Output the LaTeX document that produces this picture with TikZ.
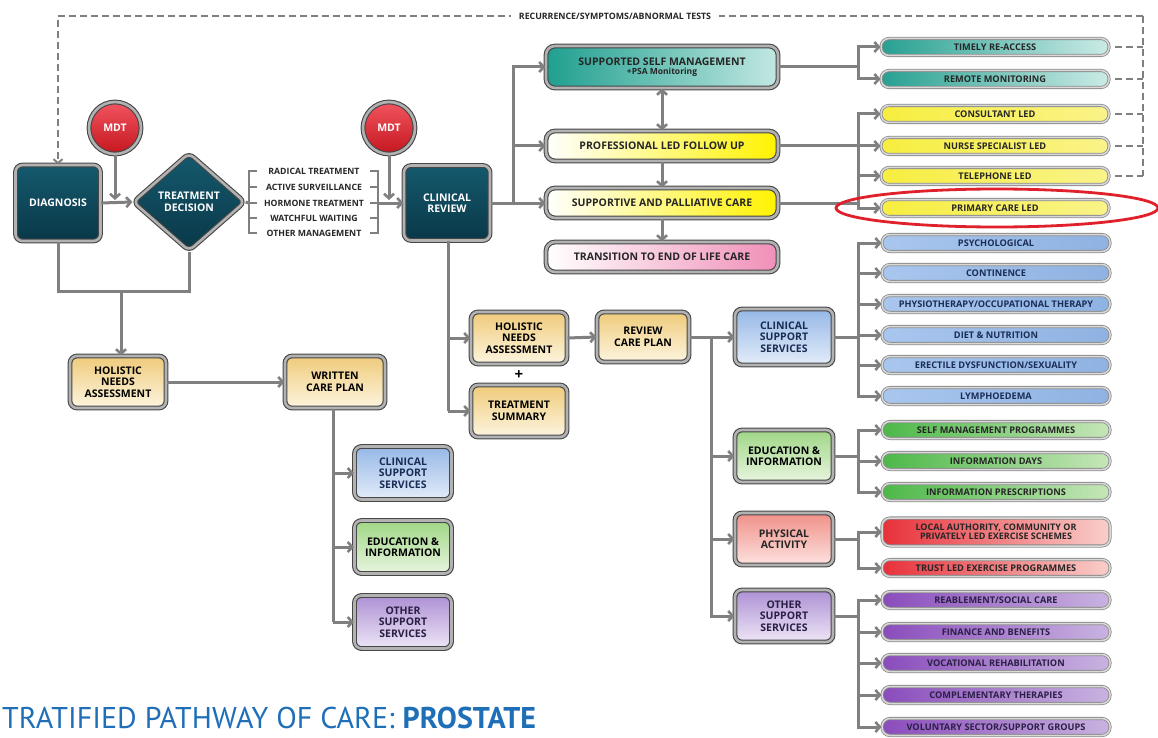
\documentclass[tikz,border=0pt]{standalone}
\usepackage{fontspec}
\setmainfont{PT Sans}
\newfontfamily\lab{Open Sans}
\usetikzlibrary{arrows.meta,shapes.geometric,calc}
\definecolor{lineg}{HTML}{808080}
\definecolor{tealA}{HTML}{15596D}
\definecolor{tealB}{HTML}{093848}
\definecolor{mdtA}{HTML}{F25560}
\definecolor{mdtB}{HTML}{C4161F}
\definecolor{tanT}{HTML}{EFCB7A}
\definecolor{tanB}{HTML}{FDF5E0}
\definecolor{bluT}{HTML}{95B7E6}
\definecolor{bluB}{HTML}{E4EDF9}
\definecolor{grnT}{HTML}{9FD685}
\definecolor{grnB}{HTML}{E8F5DF}
\definecolor{redT}{HTML}{F08F88}
\definecolor{redB}{HTML}{FDE3E0}
\definecolor{purT}{HTML}{AD90D4}
\definecolor{purB}{HTML}{EEE6F6}
\definecolor{navy}{HTML}{1A2D55}
\definecolor{plum}{HTML}{2A1F45}
\definecolor{titleblue}{HTML}{1F6FB8}
\definecolor{ellred}{HTML}{E0202A}
\definecolor{c1}{HTML}{27A091}
\definecolor{c2}{HTML}{AADCD4}
\definecolor{c3}{HTML}{CBEBE6}
\definecolor{y1}{HTML}{F7EE3F}
\definecolor{y2}{HTML}{FDFBD0}
\definecolor{y3}{HTML}{F9F38A}
\definecolor{b1c}{HTML}{A9C6EE}
\definecolor{b2c}{HTML}{F4F8FD}
\definecolor{b3c}{HTML}{8EB2E2}
\definecolor{g1c}{HTML}{4CB848}
\definecolor{g2c}{HTML}{F0F8EC}
\definecolor{g3c}{HTML}{C6E6B8}
\definecolor{r1c}{HTML}{E8303A}
\definecolor{r2c}{HTML}{F7B8B2}
\definecolor{r3c}{HTML}{F9CFCB}
\definecolor{p1c}{HTML}{8A4CBC}
\definecolor{p2c}{HTML}{EFE8F6}
\definecolor{p3c}{HTML}{C9B3E0}
\definecolor{ssmA}{HTML}{1F9F8F}
\definecolor{ssmB}{HTML}{6CC2B6}
\definecolor{ssmC}{HTML}{C2E8E2}
\definecolor{yelA}{HTML}{FFF35A}
\definecolor{yelB}{HTML}{FFF200}
\definecolor{pnkA}{HTML}{F6B0CD}
\definecolor{pnkB}{HTML}{F08FB8}
\tikzset{
  bev/.style={draw=black!72, double=black!30, double distance=2.6pt, line width=1.1pt,
    rounded corners=7pt, align=center, inner sep=1pt,
    font=\lab\fontsize{10.5}{11.5}\selectfont\bfseries},
  tealbox/.style={bev, top color=tealA, bottom color=tealB, text=white},
  mdtnode/.style={bev, circle, minimum size=52pt, top color=mdtA, bottom color=mdtB, text=white},
  tanbox/.style={bev, top color=tanT, bottom color=tanB, text=black, minimum width=96pt, minimum height=52pt},
  blubox/.style={bev, top color=bluT, bottom color=bluB, text=navy, minimum width=97pt, minimum height=53pt},
  grnbox/.style={bev, top color=grnT, bottom color=grnB, text=black, minimum width=97pt, minimum height=53pt},
  redbox/.style={bev, top color=redT, bottom color=redB, text=black!85, minimum width=97pt, minimum height=53pt},
  purbox/.style={bev, top color=purT, bottom color=purB, text=plum, minimum width=97pt, minimum height=53pt},
  widebox/.style={bev, minimum width=232pt, minimum height=30pt, rounded corners=9pt, text=black!85},
  pill/.style={draw=black!45, double=black!15, double distance=1.5pt, line width=0.8pt,
    rounded corners=8pt, minimum width=228pt, minimum height=17pt, inner sep=0pt, align=center,
    font=\lab\fontsize{9.2}{9.5}\selectfont\bfseries, text=black!85},
  tpill/.style={pill, left color=c1, middle color=c2, right color=c3},
  ypill/.style={pill, left color=y1, middle color=y2, right color=y3},
  bpill/.style={pill, left color=b1c, middle color=b2c, right color=b3c, text=navy},
  gpill/.style={pill, left color=g1c, middle color=g2c, right color=g3c},
  rpill/.style={pill, left color=r1c, middle color=r2c, right color=r3c},
  ppill/.style={pill, left color=p1c, middle color=p2c, right color=p3c, text=plum},
  lst/.style={inner sep=0pt, font=\lab\fontsize{8.7}{9}\selectfont\bfseries, text=black!85},
  conn/.style={draw=lineg, line width=3pt},
  arr/.style={conn, -{Straight Barb[length=4.5pt,width=10pt,line width=2.6pt]}},
  dbl/.style={conn, {Straight Barb[length=4.5pt,width=10pt,line width=2.6pt]}-{Straight Barb[length=4.5pt,width=10pt,line width=2.6pt]}},
  brk/.style={draw=lineg, line width=2pt},
  dsh/.style={draw=black!50, line width=2pt, dash pattern=on 7pt off 4pt},
}
\begin{document}
\begin{tikzpicture}[x=1pt,y=-1pt]
\useasboundingbox (0,0) rectangle (1158,738);
\fill[white] (0,0) rectangle (1158,738);

% ---------- left top ----------
\node[tealbox, minimum width=85pt, minimum height=76pt] (diag) at (58,203) {DIAGNOSIS};
\node[mdtnode] (mdtA) at (115,128) {MDT};
\node[tealbox, diamond, minimum width=112pt, minimum height=98pt, inner sep=0pt, rounded corners=6pt] (td) at (189,202) {TREATMENT\\DECISION};
\node[mdtnode] (mdtB) at (389,128) {MDT};
\node[tealbox, minimum width=86pt, minimum height=75pt] (cr) at (447,203) {CLINICAL\\REVIEW};

\node[lst] (l1) at (314,171) {RADICAL TREATMENT};
\node[lst] (l2) at (314,187) {ACTIVE SURVEILLANCE};
\node[lst] (l3) at (314,203) {HORMONE TREATMENT};
\node[lst] (l4) at (314,218) {WATCHFUL WAITING};
\node[lst] (l5) at (314,233) {OTHER MANAGEMENT};

\coordinate (bl) at (249,203);
\coordinate (br) at (378,203);
\draw[brk] (257,171) -- (249,171) -- (249,233) -- (257,233);
\foreach \yy in {187,203,218} \draw[brk] (249,\yy) -- (257,\yy);
\draw[brk] (370,171) -- (378,171) -- (378,233) -- (370,233);
\foreach \yy in {187,203,218} \draw[brk] (370,\yy) -- (378,\yy);

\draw[arr] (diag.east) -- (td.west);
\coordinate (m1) at (115,200);
\draw[arr] (mdtA.south) -- (m1);
\draw[conn] (td.east) -- (bl);
\draw[arr] (br) -- (cr.west);
\coordinate (m2) at (389,200);
\draw[arr] (mdtB.south) -- (m2);

% ---------- recurrence loop ----------
\coordinate (rl) at (58,16);
\coordinate (rr) at (1143,16);
\draw[dsh, -{Straight Barb[length=4pt,width=9pt,line width=2pt]}] (rr) -- (rl) -- (diag.north);

% ---------- follow-up column ----------
\node[widebox, minimum height=42pt, left color=ssmA, middle color=ssmB, right color=ssmC] (ssm) at (662,67)
  {SUPPORTED SELF MANAGEMENT\\[-2pt]{\fontsize{8.5}{9}\selectfont +PSA Monitoring}};
\node[widebox, left color=white, middle color=yelA, right color=yelB] (plfu) at (662,146) {PROFESSIONAL LED FOLLOW UP};
\node[widebox, left color=white, middle color=yelA, right color=yelB] (spc) at (662,203) {SUPPORTIVE AND PALLIATIVE CARE};
\node[widebox, left color=white, middle color=pnkA, right color=pnkB] (tr) at (662,257) {TRANSITION TO END OF LIFE CARE};

\coordinate (cj) at (513,203);
\draw[conn] (cr.east) -- (cj);
\draw[arr] (cj) |- (ssm.west);
\draw[arr] (cj|-plfu.west) -- (plfu.west);
\draw[arr] (cj) -- (spc.west);
\draw[dbl] (ssm.south) -- (plfu.north);
\draw[arr] (plfu.south) -- (spc.north);
\draw[arr] (spc.south) -- (tr.north);

% ---------- right top pills ----------
\node[tpill] (tra) at (995,47) {TIMELY RE-ACCESS};
\node[tpill] (rem) at (995,79) {REMOTE MONITORING};
\node[ypill] (con) at (995,114) {CONSULTANT LED};
\node[ypill] (nur) at (995,146) {NURSE SPECIALIST LED};
\node[ypill] (tel) at (995,176) {TELEPHONE LED};
\node[ypill] (pri) at (995,208) {PRIMARY CARE LED};

\coordinate (sj) at (858,67);
\draw[conn] (ssm.east) -- (sj);
\draw[arr] (sj) |- (tra.west);
\draw[arr] (sj) |- (rem.west);
\coordinate (pj) at (858,146);
\coordinate (qj) at (858,203);
\draw[conn] (plfu.east) -- (pj);
\draw[conn] (spc.east) -- (qj);
\draw[arr] (pj) |- (con.west);
\draw[arr] (pj) -- (nur.west);
\draw[arr] (pj) |- (tel.west);
\draw[arr] (pj) |- (pri.west);

\coordinate (d1) at (1143,47);
\coordinate (d2) at (1143,79);
\coordinate (d3) at (1143,114);
\coordinate (d4) at (1143,146);
\coordinate (d5) at (1143,176);
\draw[dsh] (rr) -- (d5);
\draw[dsh] ([xshift=6pt]tra.east) -- (d1);
\draw[dsh] ([xshift=6pt]rem.east) -- (d2);
\draw[dsh] ([xshift=6pt]con.east) -- (d3);
\draw[dsh] ([xshift=6pt]nur.east) -- (d4);
\draw[dsh] ([xshift=6pt]tel.east) -- (d5);
\node[fill=white, inner xsep=8pt, inner ysep=2pt, font=\lab\fontsize{8.8}{9}\selectfont\bfseries, text=black!85] (rec) at (615,16) {RECURRENCE/SYMPTOMS/ABNORMAL TESTS};

\draw[ellred, line width=2.8pt] (997,208) ellipse [x radius=161, y radius=19];

% ---------- lower left ----------
\node[tanbox] (hna1) at (118,382) {HOLISTIC\\NEEDS\\ASSESSMENT};
\node[tanbox, minimum width=100pt] (wcp) at (335,382) {WRITTEN\\CARE PLAN};
\coordinate (j1) at (58,291);
\coordinate (j2) at (189,291);
\coordinate (j3) at (121,291);
\draw[conn] (diag.south) -- (j1) -- (j2) -- (td.south);
\draw[arr] (j3) -- (j3|-hna1.north);
\draw[arr] (hna1.east) -- (wcp.west);

\node[blubox] (cssL) at (403,473) {CLINICAL\\SUPPORT\\SERVICES};
\node[grnbox] (eduL) at (403,547) {EDUCATION \&\\INFORMATION};
\node[purbox] (othL) at (403,622) {OTHER\\SUPPORT\\SERVICES};
\coordinate (wj) at (333,622);
\draw[conn] (wcp.south-|wj) -- (wj);
\draw[arr] (wj|-cssL.west) -- (cssL.west);
\draw[arr] (wj|-eduL.west) -- (eduL.west);
\draw[arr] (wj) -- (othL.west);

% ---------- middle ----------
\node[tanbox] (hna2) at (519,338) {HOLISTIC\\NEEDS\\ASSESSMENT};
\node[font=\lab\fontsize{15}{15}\selectfont\bfseries] (plus) at (519,375) {+};
\node[tanbox] (ts) at (519,411) {TREATMENT\\SUMMARY};
\node[tanbox, minimum width=92pt, minimum height=50pt] (rcp) at (643,337) {REVIEW\\CARE PLAN};
\coordinate (vj) at (448,411);
\draw[conn] (cr.south-|vj) -- (vj);
\draw[arr] (vj|-hna2.west) -- (hna2.west);
\draw[arr] (vj) -- (ts.west);
\draw[arr] (hna2.east) -- (rcp.west);

\node[blubox, minimum width=98pt, minimum height=56pt] (cssR) at (784,337) {CLINICAL\\SUPPORT\\SERVICES};
\node[grnbox, minimum width=98pt, minimum height=52pt] (eduR) at (784,456) {EDUCATION \&\\INFORMATION};
\node[redbox, minimum width=98pt, minimum height=52pt] (phyR) at (784,539) {PHYSICAL\\ACTIVITY};
\node[purbox, minimum width=98pt, minimum height=52pt] (othR) at (784,616) {OTHER\\SUPPORT\\SERVICES};
\draw[arr] (rcp.east) -- (cssR.west);
\coordinate (rj) at (711,337);
\draw[arr] (rj) |- (eduR.west);
\draw[arr] (rj) |- (phyR.west);
\draw[arr] (rj) |- (othR.west);

% ---------- right pills ----------
\node[bpill] (b1) at (996,243) {PSYCHOLOGICAL};
\node[bpill] (b2) at (996,273) {CONTINENCE};
\node[bpill] (b3) at (996,304) {PHYSIOTHERAPY/OCCUPATIONAL THERAPY};
\node[bpill] (b4) at (996,335) {DIET \& NUTRITION};
\node[bpill] (b5) at (996,365) {ERECTILE DYSFUNCTION/SEXUALITY};
\node[bpill] (b6) at (996,396) {LYMPHOEDEMA};
\coordinate (bj) at (858,337);
\draw[conn] (cssR.east) -- (bj);
\foreach \n in {b1,b2,b3,b4,b5,b6} \draw[arr] (bj) |- (\n.west);

\node[gpill] (g1) at (996,430) {SELF MANAGEMENT PROGRAMMES};
\node[gpill] (g2) at (996,461) {INFORMATION DAYS};
\node[gpill] (g3) at (996,492) {INFORMATION PRESCRIPTIONS};
\coordinate (gj) at (858,456);
\draw[conn] (eduR.east) -- (gj);
\foreach \n in {g1,g2,g3} \draw[arr] (gj) |- (\n.west);

\node[rpill, minimum height=28pt, font=\lab\fontsize{9}{9}\selectfont\bfseries] (r1) at (996,532) {LOCAL AUTHORITY, COMMUNITY OR\\PRIVATELY LED EXERCISE SCHEMES};
\node[rpill] (r2) at (996,568) {TRUST LED EXERCISE PROGRAMMES};
\coordinate (hj) at (858,539);
\draw[conn] (phyR.east) -- (hj);
\foreach \n in {r1,r2} \draw[arr] (hj) |- (\n.west);

\node[ppill] (p1) at (996,600) {REABLEMENT/SOCIAL CARE};
\node[ppill] (p2) at (996,632) {FINANCE AND BENEFITS};
\node[ppill] (p3) at (996,663) {VOCATIONAL REHABILITATION};
\node[ppill] (p4) at (996,695) {COMPLEMENTARY THERAPIES};
\node[ppill] (p5) at (996,727) {VOLUNTARY SECTOR/SUPPORT GROUPS};
\coordinate (oj) at (858,616);
\draw[conn] (othR.east) -- (oj);
\foreach \n in {p1,p2,p3,p4,p5} \draw[arr] (oj) |- (\n.west);

% ---------- title ----------
\node[anchor=base west, inner sep=0pt, font=\fontsize{30}{30}\selectfont, text=titleblue] (title) at (2,728) {TRATIFIED PATHWAY OF CARE: \textbf{PROSTATE}};
\end{tikzpicture}
\end{document}
